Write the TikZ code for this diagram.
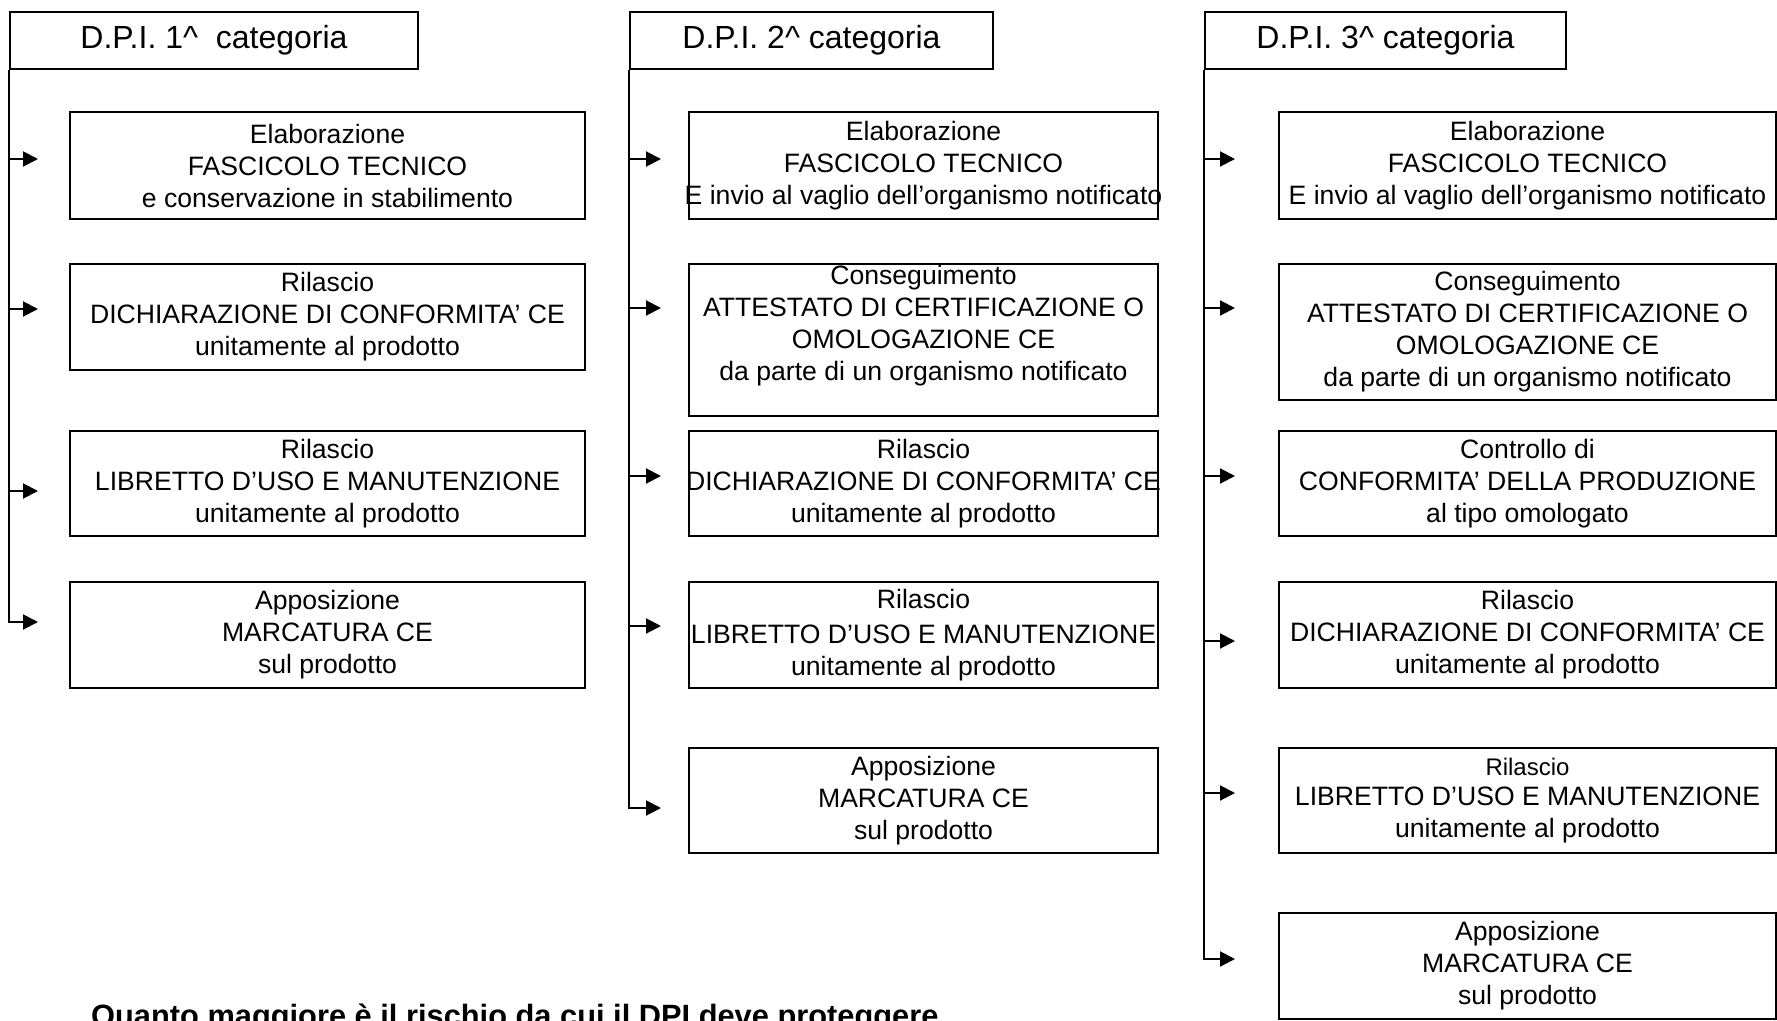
\documentclass[tikz,border=0pt]{standalone}
\usepackage{fontspec}
\setmainfont{Liberation Sans}
\usetikzlibrary{arrows.meta}
\newcommand\zl[1]{\makebox[0pt][c]{#1}}
\tikzset{
  hdr/.style={draw, line width=2pt, anchor=north west, inner sep=0pt,
    font=\fontsize{32pt}{36pt}\selectfont},
  bx/.style={draw, line width=2pt, anchor=north west, inner sep=0pt, align=center,
    font=\fontsize{26.6pt}{32pt}\selectfont},
  arr/.style={line width=2pt, -{Triangle[length=15pt,width=15pt]}},
  note/.style={anchor=base west, inner sep=0pt, font=\fontsize{30.8pt}{36pt}\selectfont\bfseries},
}
\begin{document}
\begin{tikzpicture}[x=1pt,y=-1pt]
\useasboundingbox (0,0) rectangle (1777,1020);
\clip (0,0) rectangle (1777,1020);
% ---------- column 1 ----------
\node[hdr, minimum width=408pt, minimum height=57pt] (h1) at (9,11) {D.P.I. 1\textasciicircum\ \ categoria};
\node[bx, minimum width=515pt, minimum height=107pt] (b11) at (69,111)
  {\zl{Elaborazione}\\\zl{FASCICOLO TECNICO}\\\zl{e conservazione in stabilimento}};
\node[bx, minimum width=515pt, minimum height=106pt] (b12) at (69,263)
  {\zl{Rilascio}\\\zl{DICHIARAZIONE DI CONFORMITA’ CE}\\\zl{unitamente al prodotto}};
\node[bx, minimum width=515pt, minimum height=105pt] (b13) at (69,430)
  {\zl{Rilascio}\\\zl{LIBRETTO D’USO E MANUTENZIONE}\\\zl{unitamente al prodotto}};
\node[bx, minimum width=515pt, minimum height=106pt] (b14) at (69,581)
  {\zl{Apposizione}\\\zl{MARCATURA CE}\\\zl{sul prodotto}};
\coordinate (t11) at (38,159);
\coordinate (t12) at (38,309);
\coordinate (t13) at (38,491);
\coordinate (t14) at (38,622);
\draw[arr] (h1.south west |- t11) -- (t11);
\draw[arr] (h1.south west |- t12) -- (t12);
\draw[arr] (h1.south west |- t13) -- (t13);
\draw[arr] (h1.south west) |- (t14);
% ---------- column 2 ----------
\node[hdr, minimum width=363pt, minimum height=57pt] (h2) at (629,11) {D.P.I. 2\textasciicircum{} categoria};
\node[bx, minimum width=469pt, minimum height=107pt] (b21) at (688,111)
  {\zl{Elaborazione}\\\zl{FASCICOLO TECNICO}\\\zl{E invio al vaglio dell’organismo notificato}};
\node[bx, minimum width=469pt, minimum height=152pt, text depth=34pt] (b22) at (688,263)
  {\zl{Conseguimento}\\\zl{ATTESTATO DI CERTIFICAZIONE O}\\\zl{OMOLOGAZIONE CE}\\\zl{da parte di un organismo notificato}};
\node[bx, minimum width=469pt, minimum height=105pt] (b23) at (688,430)
  {\zl{Rilascio}\\\zl{DICHIARAZIONE DI CONFORMITA’ CE}\\\zl{unitamente al prodotto}};
\node[bx, minimum width=469pt, minimum height=106pt] (b24) at (688,581)
  {\zl{Rilascio}\\[3pt]\zl{LIBRETTO D’USO E MANUTENZIONE}\\\zl{unitamente al prodotto}};
\node[bx, minimum width=469pt, minimum height=105pt] (b25) at (688,747)
  {\zl{Apposizione}\\\zl{MARCATURA CE}\\\zl{sul prodotto}};
\coordinate (t21) at (661,159);
\coordinate (t22) at (661,308);
\coordinate (t23) at (661,476);
\coordinate (t24) at (661,626);
\coordinate (t25) at (661,808);
\draw[arr] (h2.south west |- t21) -- (t21);
\draw[arr] (h2.south west |- t22) -- (t22);
\draw[arr] (h2.south west |- t23) -- (t23);
\draw[arr] (h2.south west |- t24) -- (t24);
\draw[arr] (h2.south west) |- (t25);
% ---------- column 3 ----------
\node[hdr, minimum width=361pt, minimum height=57pt] (h3) at (1204,11) {D.P.I. 3\textasciicircum{} categoria};
\node[bx, minimum width=497pt, minimum height=107pt] (b31) at (1278,111)
  {\zl{Elaborazione}\\\zl{FASCICOLO TECNICO}\\\zl{E invio al vaglio dell’organismo notificato}};
\node[bx, minimum width=497pt, minimum height=136pt] (b32) at (1278,263)
  {\zl{Conseguimento}\\\zl{ATTESTATO DI CERTIFICAZIONE O}\\\zl{OMOLOGAZIONE CE}\\\zl{da parte di un organismo notificato}};
\node[bx, minimum width=497pt, minimum height=105pt] (b33) at (1278,430)
  {\zl{Controllo di}\\\zl{CONFORMITA’ DELLA PRODUZIONE}\\\zl{al tipo omologato}};
\node[bx, minimum width=497pt, minimum height=106pt] (b34) at (1278,581)
  {\zl{Rilascio}\\\zl{DICHIARAZIONE DI CONFORMITA’ CE}\\\zl{unitamente al prodotto}};
\node[bx, minimum width=497pt, minimum height=105pt] (b35) at (1278,747)
  {\zl{\fontsize{24pt}{28pt}\selectfont Rilascio}\\[-2pt]\zl{LIBRETTO D’USO E MANUTENZIONE}\\\zl{unitamente al prodotto}};
\node[bx, minimum width=497pt, minimum height=106pt] (b36) at (1278,912)
  {\zl{Apposizione}\\\zl{MARCATURA CE}\\\zl{sul prodotto}};
\coordinate (t31) at (1235,159);
\coordinate (t32) at (1235,308);
\coordinate (t33) at (1235,476);
\coordinate (t34) at (1235,641);
\coordinate (t35) at (1235,793);
\coordinate (t36) at (1235,959);
\draw[arr] (h3.south west |- t31) -- (t31);
\draw[arr] (h3.south west |- t32) -- (t32);
\draw[arr] (h3.south west |- t33) -- (t33);
\draw[arr] (h3.south west |- t34) -- (t34);
\draw[arr] (h3.south west |- t35) -- (t35);
\draw[arr] (h3.south west) |- (t36);
% ---------- bottom note ----------
\node[note] (n1) at (91,1026) {Quanto maggiore è il rischio da cui il DPI deve proteggere};
\end{tikzpicture}
\end{document}
